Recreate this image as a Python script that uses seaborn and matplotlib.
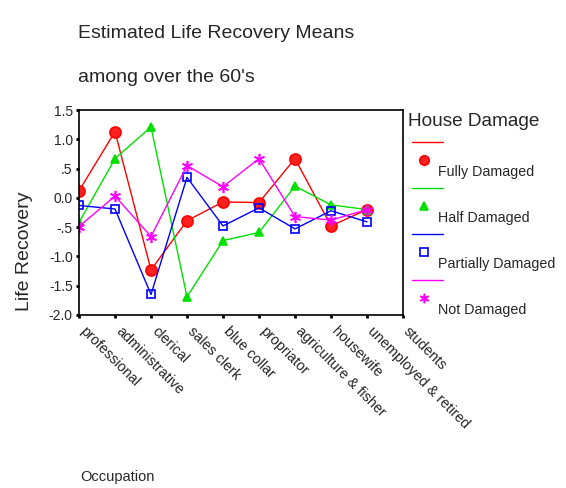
import numpy as np
import matplotlib.pyplot as plt
import seaborn as sns
import pandas as pd
from matplotlib.lines import Line2D

sns.set_style("white")
plt.rcParams['font.family'] = ['Liberation Sans', 'DejaVu Sans']

occupations = ['professional', 'administrative', 'clerical', 'sales clerk', 'blue collar',
               'propriator', 'agriculture & fisher', 'housewife', 'unemployed & retired', 'students']
damage = ['Fully Damaged', 'Half Damaged', 'Partially Damaged', 'Not Damaged']

fully = [0.12, 1.13, -1.23, -0.39, -0.07, -0.08, 0.67, -0.48, -0.20]
half = [-0.42, 0.67, 1.21, -1.69, -0.73, -0.59, 0.20, -0.12, -0.20]
partially = [-0.13, -0.19, -1.65, 0.35, -0.48, -0.17, -0.53, -0.22, -0.41]
not_damaged = [-0.49, 0.03, -0.66, 0.55, 0.19, 0.67, -0.32, -0.38, -0.20]

yticks = [1.5, 1.0, 0.5, 0.0, -0.5, -1.0, -1.5, -2.0]
ytick_labels = ['1.5', '1.0', '.5', '0.0', '-.5', '-1.0', '-1.5', '-2.0']

colors = ['#ff0000', '#00e000', '#0000ff', '#ff00ff']
markers = ['o', '^', 's', (6, 2, 0)]
msizes = [8, 6, 6, 8]
facecols = ['#ff2020', '#00e000', 'none', '#ff00ff']

series = [fully, half, partially, not_damaged]
rows = []
for name, vals in zip(damage, series):
    for i, v in enumerate(vals):
        rows.append({'Occupation': i, 'Life Recovery': v, 'House Damage': name})
df = pd.DataFrame(rows)

fig = plt.figure(figsize=(5.66, 4.88), dpi=100)
ax = fig.add_axes([79/566, 1-315/488, 324/566, 205/488])

for name, c, m, ms, fc in zip(damage, colors, markers, msizes, facecols):
    sub = df[df['House Damage'] == name]
    sns.lineplot(data=sub, x='Occupation', y='Life Recovery', color=c, marker=m,
                 markersize=ms, markerfacecolor=fc, markeredgecolor=c,
                 markeredgewidth=1.2, linewidth=1, ax=ax, legend=False)

ax.set_xlim(0, 9)
ax.set_ylim(-2.0, 1.5)
ax.set_xticks(range(len(occupations)))
ax.set_xticklabels(occupations, rotation=-45, ha='left', va='baseline',
                   rotation_mode='anchor', fontsize=10.4)
ax.set_yticks(yticks)
ax.set_yticklabels(ytick_labels, fontsize=10)
ax.tick_params(axis='both', bottom=True, left=True, length=2.5, width=2,
               color='black', pad=2, direction='out')
ax.tick_params(axis='x', pad=10)
for s in ax.spines.values():
    s.set_color('black')
    s.set_linewidth(1.2)
ax.set_xlabel('')
ax.set_ylabel('Life Recovery', fontsize=14)
ax.yaxis.set_label_coords(-0.142, 0.31)

fig.text(78/566, 1-33/488, 'Estimated Life Recovery Means', fontsize=14, va='center')
fig.text(78/566, 1-78/488, "among over the 60's", fontsize=14, va='center')
fig.text(80/566, 1-477/488, 'Occupation', fontsize=10.5, va='center')

# legend drawn SPSS-style
fig.text(408/566, 1-121/488, 'House Damage', fontsize=13.7, va='center')
for k, (name, c, m, ms, fc) in enumerate(zip(damage, colors, markers, msizes, facecols)):
    y0 = 142 + 46 * k
    fig.add_artist(Line2D([412/566, 443/566], [1-y0/488, 1-y0/488], color=c, linewidth=1,
                          transform=fig.transFigure))
    fig.add_artist(Line2D([424/566], [1-(y0+18)/488], marker=m, markersize=ms*0.85,
                          markerfacecolor=fc, markeredgecolor=c, markeredgewidth=1.2,
                          linestyle='none', transform=fig.transFigure))
    fig.text(438/566, 1-(y0+30)/488, name, fontsize=10.3, va='center')

fig.savefig('out.png', dpi=100)
